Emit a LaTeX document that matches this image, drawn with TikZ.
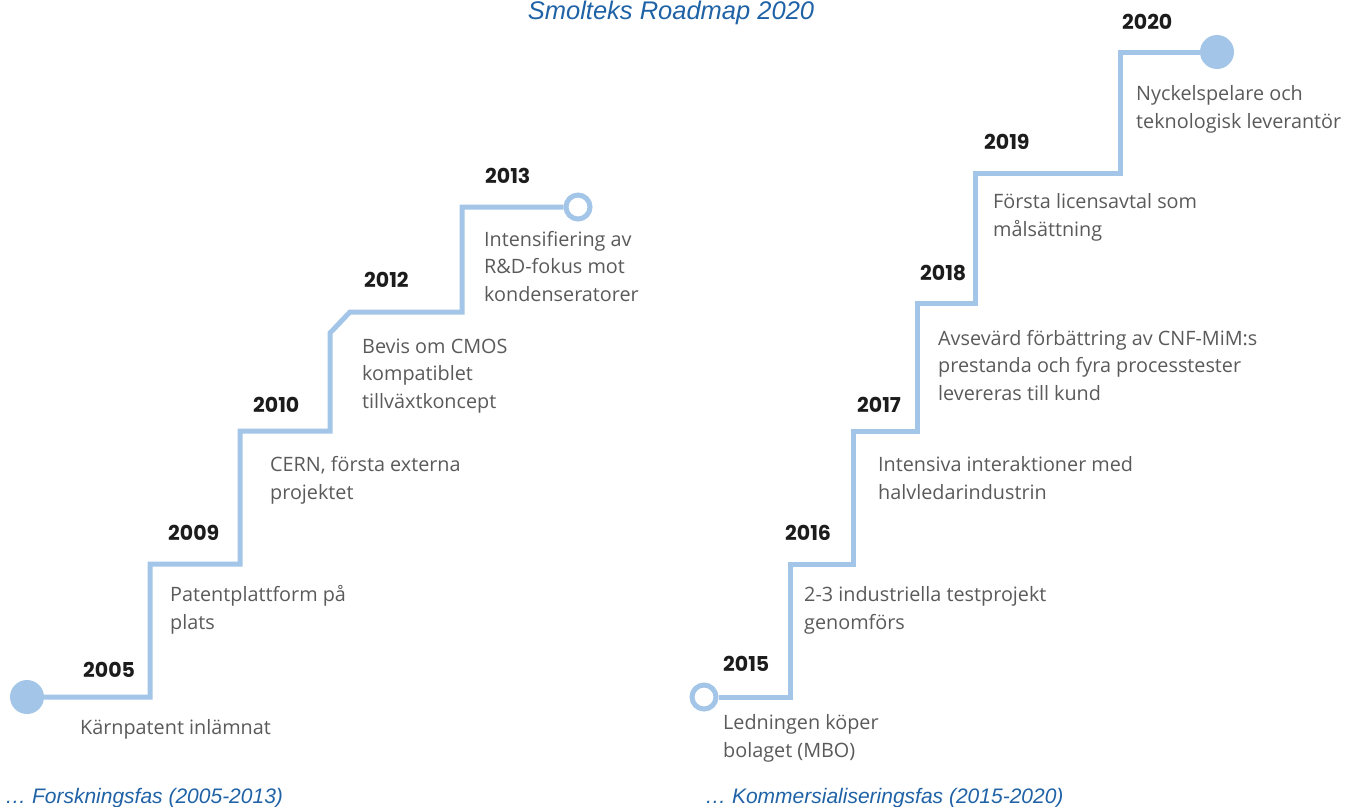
\documentclass[tikz,border=0pt]{standalone}
\usepackage{fontspec}
\setmainfont{Open Sans}
\newfontfamily\yearfont{Poppins}
\newfontfamily\capfont{Liberation Sans}
\definecolor{stepblue}{HTML}{A2C5E8}
\definecolor{capblue}{HTML}{1F62A6}
\definecolor{txtgray}{HTML}{5A5A5A}
\definecolor{yeargray}{HTML}{1C1C1C}
\tikzset{
  stepline/.style={draw=stepblue, line width=5pt},
  dotfull/.style={circle, fill=stepblue, minimum size=34pt, inner sep=0pt},
  dotopen/.style={circle, draw=stepblue, line width=5pt, fill=white, minimum size=24pt, inner sep=0pt},
  yearlbl/.style={anchor=base west, inner sep=0pt, text=yeargray, font=\yearfont\bfseries\fontsize{20.5}{22}\selectfont},
  desc/.style={anchor=base west, inner sep=0pt, text=txtgray, align=left, font=\fontsize{19.8}{27.5}\selectfont},
  caption/.style={inner sep=0pt, text=capblue, font=\capfont\itshape\fontsize{21}{24}\selectfont}
}
\begin{document}
\begin{tikzpicture}[x=1pt,y=-1pt]
\useasboundingbox (0,0) rectangle (1346,806);
% title
\node[caption, anchor=base, font=\capfont\itshape\fontsize{25.5}{28}\selectfont] (title) at (671,19) {Smolteks Roadmap 2020};
% ---------- left staircase ----------
\node[dotfull] (c2005) at (27,697) {};
\node[dotopen] (c2013) at (578,207) {};
\coordinate (l1) at (150,697);
\coordinate (l2) at (150,564);
\coordinate (l3) at (240,564);
\coordinate (l4) at (240,431);
\coordinate (l5) at (330,431);
\coordinate (l6) at (330,333);
\coordinate (l7) at (350,312);
\coordinate (l8) at (462,312);
\coordinate (l9) at (462,207);
\draw[stepline] (c2005.east) -- (l1) -- (l2) -- (l3) -- (l4) -- (l5) -- (l6) -- (l7) -- (l8) -- (l9) -- (c2013.west);
% ---------- right staircase ----------
\node[dotopen] (c2015) at (704,697) {};
\node[dotfull] (c2020) at (1217,52) {};
\coordinate (r1) at (790,697);
\coordinate (r2) at (790,564);
\coordinate (r3) at (853,564);
\coordinate (r4) at (853,431);
\coordinate (r5) at (917,431);
\coordinate (r6) at (917,303);
\coordinate (r7) at (975,303);
\coordinate (r8) at (975,173);
\coordinate (r9) at (1120,173);
\coordinate (r10) at (1120,52);
\draw[stepline] (c2015.east) -- (r1) -- (r2) -- (r3) -- (r4) -- (r5) -- (r6) -- (r7) -- (r8) -- (r9) -- (r10) -- (c2020.west);
% ---------- left labels (anchor = baseline of last line) ----------
\node[yearlbl] (y2005) at (83,677) {2005};
\node[desc] (t2005) at (80,734) {Kärnpatent inlämnat};
\node[yearlbl] (y2009) at (168,540) {2009};
\node[desc] (t2009) at (170,629) {Patentplattform på\\plats};
\node[yearlbl] (y2010) at (253,412) {2010};
\node[desc] (t2010) at (270,499) {CERN, första externa\\projektet};
\node[yearlbl] (y2012) at (364,287) {2012};
\node[desc] (t2012) at (362,408) {Bevis om CMOS\\kompatiblet\\tillväxtkoncept};
\node[yearlbl] (y2013) at (485,183) {2013};
\node[desc] (t2013) at (484,301) {Intensifiering av\\R\&D-fokus mot\\kondenseratorer};
% ---------- right labels ----------
\node[yearlbl] (y2015) at (723,671) {2015};
\node[desc] (t2015) at (723,757) {Ledningen köper\\bolaget (MBO)};
\node[yearlbl] (y2016) at (785,540) {2016};
\node[desc] (t2016) at (804,629) {2-3 industriella testprojekt\\genomförs};
\node[yearlbl] (y2017) at (857,412) {2017};
\node[desc] (t2017) at (878,499) {Intensiva interaktioner med\\halvledarindustrin};
\node[yearlbl] (y2018) at (920,280) {2018};
\node[desc] (t2018) at (938,400) {Avsevärd förbättring av CNF-MiM:s\\prestanda och fyra processtester\\levereras till kund};
\node[yearlbl] (y2019) at (984,149) {2019};
\node[desc] (t2019) at (993,236) {Första licensavtal som\\målsättning};
\node[yearlbl] (y2020) at (1122,29) {2020};
\node[desc] (t2020) at (1136,128) {Nyckelspelare och\\teknologisk leverantör};
% ---------- captions ----------
\node[caption, anchor=base west] (capL) at (5,803) {… Forskningsfas (2005-2013)};
\node[caption, anchor=base west] (capR) at (705,803) {… Kommersialiseringsfas (2015-2020)};
\end{tikzpicture}
\end{document}
